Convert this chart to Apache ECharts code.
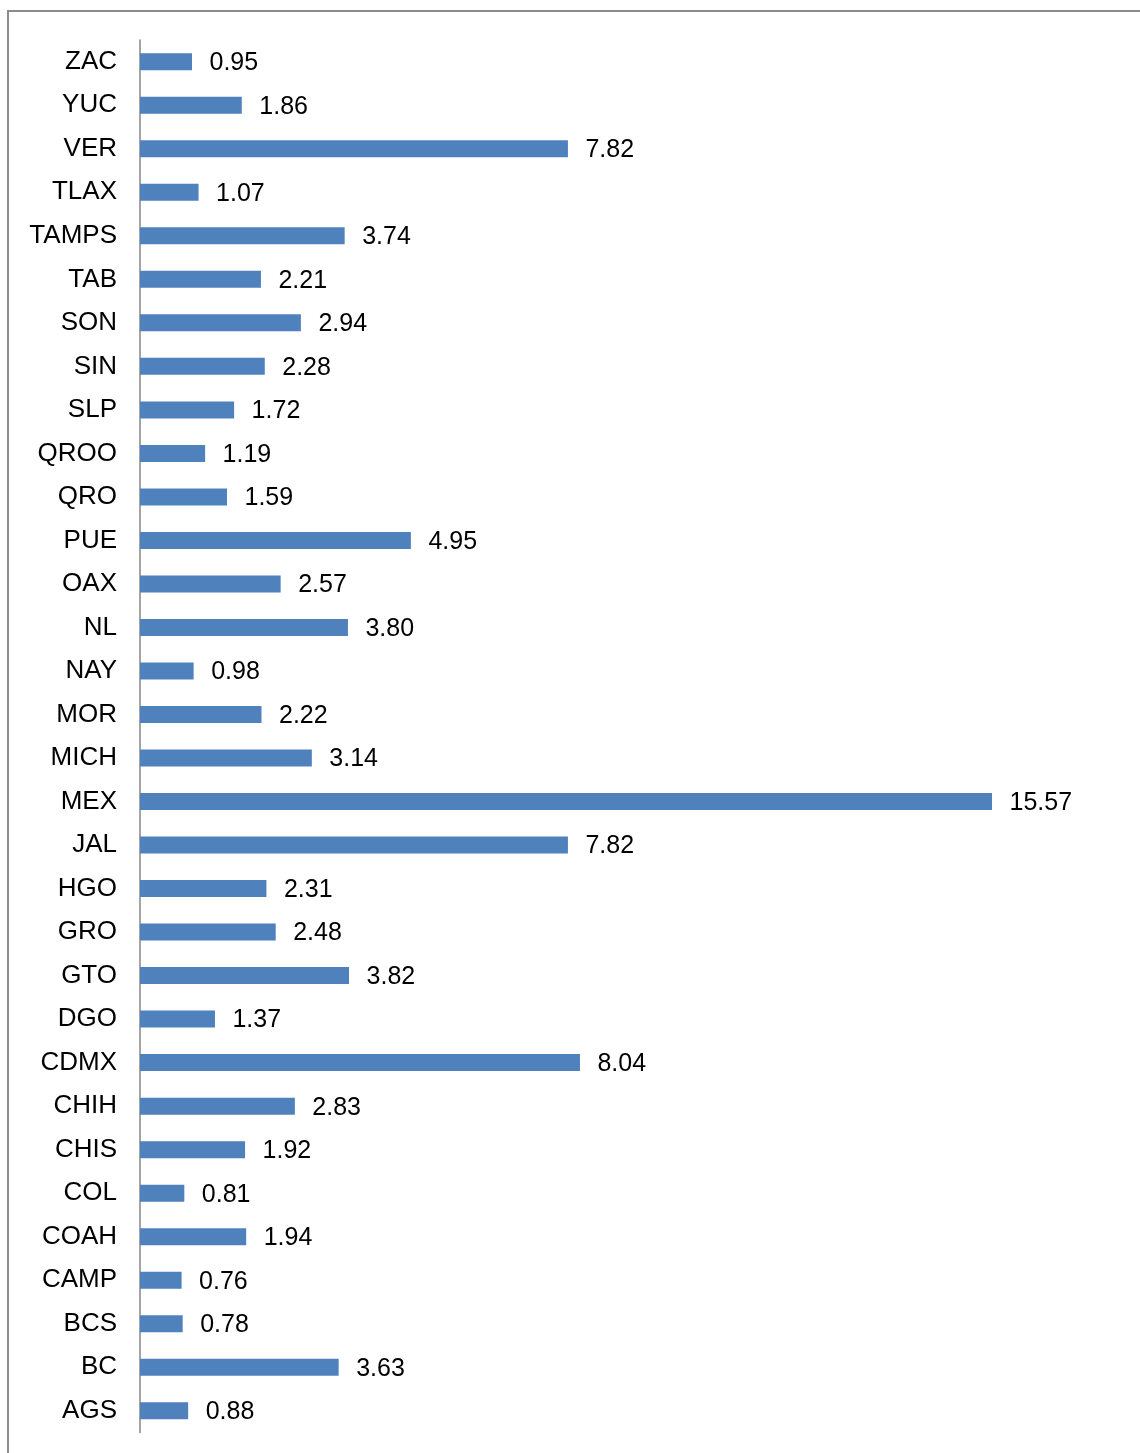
<!DOCTYPE html>
<html>
<head>
<meta charset="utf-8">
<script src="https://cdn.jsdelivr.net/npm/echarts@6/dist/echarts.min.js"></script>
<style>
    html, body { margin: 0; padding: 0; background: #fff; }
    #chart { width: 1140px; height: 1453px; }
</style>
</head>
<body>
<div id="chart"></div>
<script>
// estados, de arriba hacia abajo
var states = ['ZAC', 'YUC', 'VER', 'TLAX', 'TAMPS', 'TAB', 'SON', 'SIN', 'SLP', 'QROO',
    'QRO', 'PUE', 'OAX', 'NL', 'NAY', 'MOR', 'MICH', 'MEX', 'JAL', 'HGO',
    'GRO', 'GTO', 'DGO', 'CDMX', 'CHIH', 'CHIS', 'COL', 'COAH', 'CAMP', 'BCS',
    'BC', 'AGS']
var values = [0.95, 1.86, 7.82, 1.07, 3.74, 2.21, 2.94, 2.28, 1.72, 1.19,
    1.59, 4.95, 2.57, 3.80, 0.98, 2.22, 3.14, 15.57, 7.82, 2.31,
    2.48, 3.82, 1.37, 8.04, 2.83, 1.92, 0.81, 1.94, 0.76, 0.78,
    3.63, 0.88]

var myChart = echarts.init(document.getElementById('chart'), null, { renderer: 'canvas' })

var option = {
    backgroundColor: '#fff',
    animation: false,
    textStyle: { fontFamily: 'Liberation Sans, Arial, sans-serif' },
    graphic: [{
        type: 'rect',
        shape: { x: 8, y: 11, width: 1200, height: 1500 },
        style: { fill: 'none', stroke: '#8c8c8c', lineWidth: 2 },
        silent: true
    }],
    grid: {
        left: 140,
        right: 15,
        top: 40,
        bottom: 20.5
    },
    xAxis: {
        type: 'value',
        min: 0,
        max: 18,
        show: false
    },
    yAxis: {
        type: 'category',
        inverse: true,
        data: states,
        axisTick: { show: false },
        axisLine: {
            lineStyle: { color: '#868686', width: 1.5 }
        },
        axisLabel: {
            margin: 23,
            color: '#000',
            fontSize: 26,
            padding: [0, 0, 3, 0],
            fontFamily: 'Liberation Sans, Arial, sans-serif'
        }
    },
    series: [{
        type: 'bar',
        data: values,
        barWidth: 17,
        itemStyle: {
            color: '#4f81bd'
        },
        label: {
            show: true,
            position: 'right',
            distance: 17.5,
            offset: [0, 1.5],
            color: '#000',
            fontSize: 25,
            fontFamily: 'Liberation Sans, Arial, sans-serif',
            formatter: function (p) {
                return p.value.toFixed(2)
            }
        }
    }]
}

myChart.setOption(option, true)
</script>
</body>
</html>
